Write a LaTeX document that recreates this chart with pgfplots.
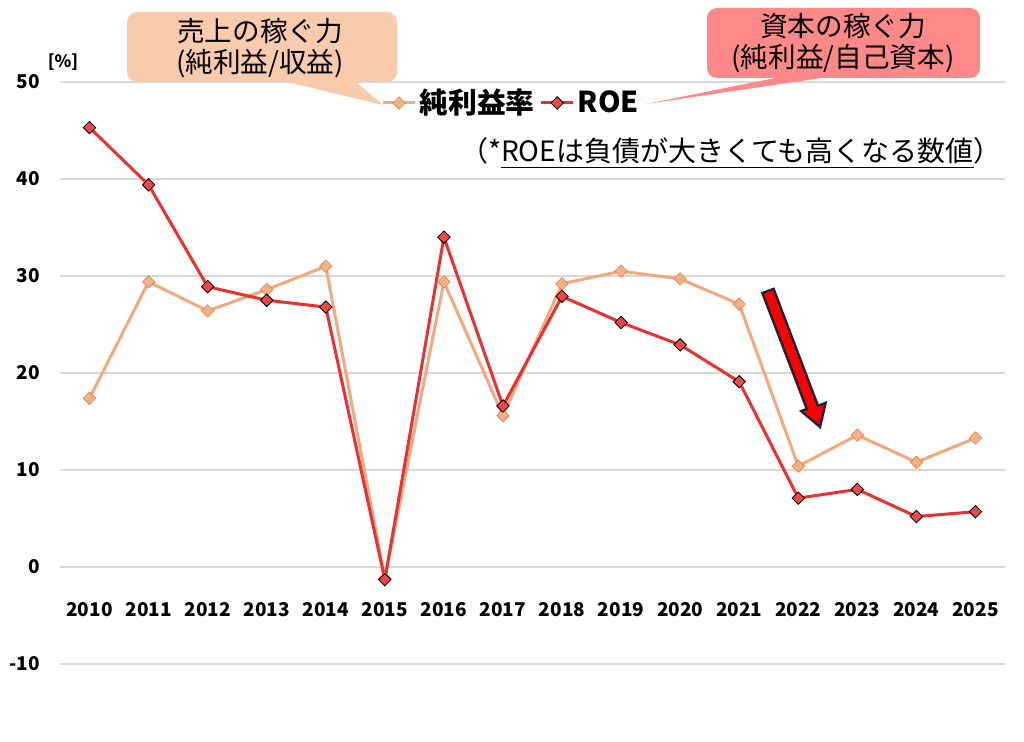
\documentclass[border=0pt]{standalone}
\usepackage{fontspec}
\setmainfont{Noto Sans CJK JP}
\usepackage{pgfplots}
\pgfplotsset{compat=1.18}
\definecolor{gridgray}{RGB}{217,217,217}
\definecolor{orline}{RGB}{244,168,126}
\definecolor{ormark}{RGB}{244,177,131}
\definecolor{ormarkd}{RGB}{230,125,60}
\definecolor{rdline}{RGB}{236,48,48}
\definecolor{rdmark}{RGB}{240,72,72}
\definecolor{calL}{RGB}{248,203,173}
\definecolor{calR}{RGB}{255,136,136}
\definecolor{arrowd}{RGB}{30,35,55}
\begin{document}
\begin{tikzpicture}
\path[use as bounding box, fill=white] (0pt,0pt) rectangle (512pt,371pt);
\begin{axis}[
  at={(30pt,39pt)}, anchor=south west,
  scale only axis, width=472.5pt, height=291pt,
  xmin=2009.5, xmax=2025.5, ymin=-10, ymax=50,
  xtick={2010,2011,...,2025}, ytick={-10,0,10,20,30,40,50},
  /pgf/number format/1000 sep={},
  /pgf/number format/assume math mode=true,
  axis line style={draw=none},
  major tick length=0pt,
  ymajorgrids, grid style={line width=0.6pt, gridgray},
  tick label style={font=\bfseries\fontsize{9.5}{11}\selectfont},
  xticklabel style={anchor=center, yshift=27pt},
  yticklabel style={anchor=east, inner sep=0pt, xshift=-10pt},
  legend style={at={(0.478,0.964)}, anchor=center, draw=none, fill=none,
    font=\bfseries\fontsize{14.4}{16}\selectfont, nodes={inner sep=1.5pt},
    /tikz/every even column/.append style={column sep=1pt}},
  legend columns=2,
  legend image code/.code={\draw[mark repeat=2,mark phase=2] plot coordinates {(0pt,0pt) (8pt,0pt) (16pt,0pt)};},
]
\addplot[orline, line width=1.5pt, mark=square*, mark size=2.2pt,
  mark options={rotate=45, fill=ormark, draw=ormarkd, line width=0.3pt}]
  coordinates {(2010,17.4) (2011,29.4) (2012,26.4) (2013,28.6) (2014,31.0) (2015,-1.2) (2016,29.4) (2017,15.6) (2018,29.2) (2019,30.5) (2020,29.7) (2021,27.1) (2022,10.4) (2023,13.6) (2024,10.8) (2025,13.3)};
\addlegendentry{純利益率}
\addplot[rdline, line width=1.5pt, mark=square*, mark size=2.2pt,
  mark options={rotate=45, fill=rdmark, draw=black, line width=0.4pt}]
  coordinates {(2010,45.3) (2011,39.4) (2012,28.9) (2013,27.5) (2014,26.8) (2015,-1.3) (2016,34.0) (2017,16.6) (2018,27.9) (2019,25.2) (2020,22.9) (2021,19.1) (2022,7.1) (2023,8.0) (2024,5.2) (2025,5.7)};
\addlegendentry{ROE}
\end{axis}
\begin{scope}[x=0.5pt, y=-0.5pt, shift={(0pt,371pt)}]
  % left callout
  \fill[calL, rounded corners=5pt] (127,12) rectangle (397,82);
  \fill[calL] (283,81) -- (355,81) -- (383,105) -- cycle;
  \node[font=\fontsize{13.8}{15}\selectfont] at (260,31) {売上の稼ぐ力};
  \node[font=\fontsize{13.8}{15}\selectfont] at (260,64) {(純利益/収益)};
  % right callout
  \fill[calR, rounded corners=5pt] (707,8) rectangle (980,78);
  \fill[calR] (780,77) -- (828,77) -- (646,104) -- cycle;
  \node[font=\fontsize{13.8}{15}\selectfont] at (843,26) {資本の稼ぐ力};
  \node[font=\fontsize{13.8}{15}\selectfont] at (843,59) {(純利益/自己資本)};
  % unit
  \node[font=\bfseries\fontsize{8.5}{10}\selectfont] at (63,62) {[\%]};
  % note
  \node[font=\fontsize{14}{15}\selectfont] at (731,153) {（*\underline{ROEは負債が大きくても高くなる数値}）};
  % arrow
  \filldraw[fill=red, draw=arrowd, line width=1.2pt, line join=miter]
    (773.6,288.9) -- (762.4,293.1) -- (806.8,409.0) -- (801.2,411.1) -- (820,427) -- (825.6,402.9) -- (818.0,405.8) -- cycle;
\end{scope}
\end{tikzpicture}
\end{document}
